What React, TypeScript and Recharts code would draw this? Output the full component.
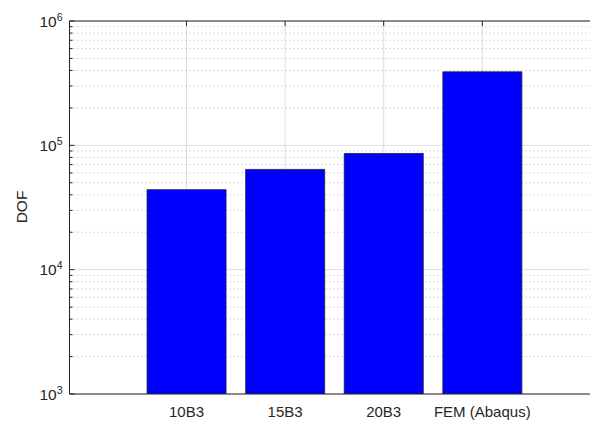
import { Bar, BarChart, CartesianGrid, Label, XAxis, YAxis } from 'recharts'

const categories = ['10B3', '15B3', '20B3', 'FEM (Abaqus)']
const dofValues = [44000, 64000, 86000, 390000]

const decadeTicks = [1000, 10000, 100000, 1000000]
const minorTicks = [
  2000, 3000, 4000, 5000, 6000, 7000, 8000, 9000,
  20000, 30000, 40000, 50000, 60000, 70000, 80000, 90000,
  200000, 300000, 400000, 500000, 600000, 700000, 800000, 900000,
]
const allTicks = [...decadeTicks, ...minorTicks].sort((a, b) => a - b)

const data = categories.map((name, i) => ({ name, dof: dofValues[i] }))

const FONT = '"Liberation Sans", Arial, Helvetica, sans-serif'
const INK = '#262626'

function YTick({ x, y, payload }: { x: number; y: number; payload: { value: number } }) {
  const v = payload.value
  const exp = Math.round(Math.log10(v))
  const isDecade = decadeTicks.includes(v)
  return (
    <g>
      <line x1={x} x2={x + (isDecade ? 5 : 3)} y1={y} y2={y} stroke={INK} strokeWidth={1} />
      {isDecade ? (
        <text x={x - 7} y={y + 5.5} textAnchor="end" fill={INK} fontFamily={FONT} fontSize={15.5}>
          <tspan>10</tspan>
          <tspan dy={-6} fontSize={10.5}>{exp}</tspan>
        </text>
      ) : null}
    </g>
  )
}

function TopTick({ x, y }: { x: number; y: number }) {
  return <line x1={x} x2={x} y1={y} y2={y + 5} stroke={INK} strokeWidth={1} />
}

export default function App() {
  return (
    <div style={{ position: 'fixed', left: 0, top: 0, width: 590, height: 421, overflow: 'hidden', background: '#fff' }}>
      <BarChart width={700} height={421} data={data} margin={{ top: 20, right: 50, bottom: 0, left: 0 }} barCategoryGap="10%">
        <CartesianGrid xAxisId="bottom" horizontal={false} vertical stroke="#dedede" strokeWidth={1} />
        <CartesianGrid xAxisId="bottom" vertical={false} horizontalValues={minorTicks} stroke="#b4b4b4" strokeDasharray="1 3" strokeWidth={1} />
        <CartesianGrid xAxisId="bottom" vertical={false} horizontalValues={decadeTicks} stroke="#dedede" strokeWidth={1} />
        <XAxis
          dataKey="name"
          xAxisId="bottom"
          padding={{ left: 67.7, right: 118.4 }}
          height={27}
          interval={0}
          tickLine={false}
          tickSize={0}
          tickMargin={12}
          axisLine={{ stroke: INK, strokeWidth: 1 }}
          tick={{ fill: INK, fontFamily: FONT, fontSize: 15 }}
        />
        <XAxis
          dataKey="name"
          xAxisId="top"
          orientation="top"
          padding={{ left: 67.7, right: 118.4 }}
          height={1}
          interval={0}
          tickSize={0}
          tickMargin={0}
          tickLine={false}
          axisLine={{ stroke: INK, strokeWidth: 1 }}
          tick={TopTick}
        />
        <YAxis
          scale="log"
          domain={[1000, 1000000]}
          allowDataOverflow
          ticks={allTicks}
          interval={0}
          width={69.5}
          tickSize={0}
          tickMargin={0}
          tickLine={false}
          axisLine={{ stroke: INK, strokeWidth: 1 }}
          tick={YTick}
        >
          <Label
            content={() => (
              <text x={21} y={207} transform="rotate(-90 21 207)" textAnchor="middle" dominantBaseline="central" fill={INK} fontFamily={FONT} fontSize={15.5}>
                DOF
              </text>
            )}
          />
        </YAxis>
        <Bar dataKey="dof" xAxisId="bottom" fill="#0000ff" stroke="#1a1a40" strokeWidth={0.8} isAnimationActive={false} />
      </BarChart>
    </div>
  )
}
